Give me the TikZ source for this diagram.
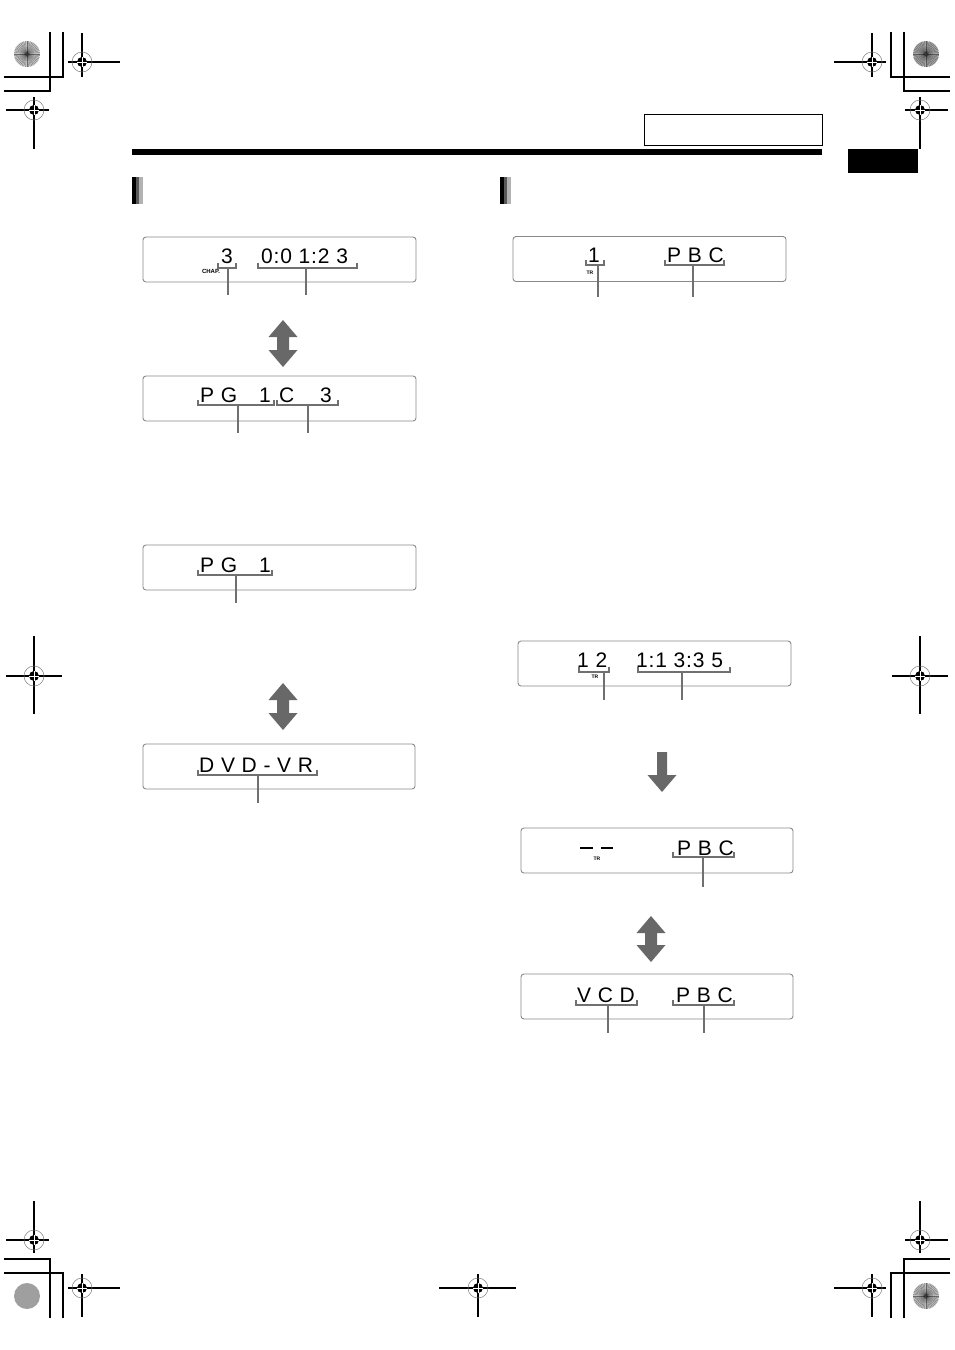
\documentclass[tikz,border=0pt]{standalone}
\usepackage{fontspec}
\setmainfont{Liberation Sans}
\newfontfamily\dispfont[LetterSpace=4]{Liberation Sans}
\definecolor{boxc}{HTML}{8A8A8A}
\definecolor{brkc}{HTML}{707070}
\definecolor{arrc}{HTML}{686868}
\newcommand\regmark[6]{%
  \draw[line width=1.1pt] (#1-#3,#2) -- (#1+#4,#2);
  \draw[line width=1.1pt] (#1,#2-#5) -- (#1,#2+#6);
  \draw[gray,line width=0.5pt] (#1,#2) circle[radius=10];
  \fill[black] (#1,#2) circle[radius=5];
  \draw[white,line width=0.7pt] (#1-5,#2) -- (#1+5,#2) (#1,#2-5) -- (#1,#2+5);
}
\newcommand\burst[3]{%
  \fill[#3] (#1,#2) circle[radius=13];
  \foreach \a in {0,7.5,...,352.5} \draw[black,line width=0.3pt,opacity=0.45] (#1,#2) -- ++(\a:13);
  \fill[gray!60!black] (#1,#2) circle[radius=1.2];
}
\newcommand\bracketmark[5]{%
  \draw[brk] (#1,#3-5) -- (#1,#3) -- (#2,#3) -- (#2,#3-5);
  \draw[brk] (#4,#3) -- (#4,#5);
}
\newcommand\dblarrow[3]{%
  \fill[arrc] (#1,#2) -- (#1+14.5,#2+17) -- (#1+6,#2+17) -- (#1+6,#3-17) -- (#1+14.5,#3-17) -- (#1,#3)
   -- (#1-14.5,#3-17) -- (#1-6,#3-17) -- (#1-6,#2+17) -- (#1-14.5,#2+17) -- cycle;
}
\begin{document}
\begin{tikzpicture}[x=1pt,y=-1pt,
  dispbox/.style={draw=boxc,line width=0.9pt,rounded corners=3pt,minimum width=273pt,minimum height=45pt,inner sep=0pt},
  dtxt/.style={font=\dispfont\fontsize{21}{21}\selectfont,anchor=base west,inner sep=0pt},
  small/.style={font=\bfseries\fontsize{5}{5}\selectfont,inner sep=0pt},
  brk/.style={draw=brkc,line width=1.3pt},
  crop/.style={line width=1.1pt}]
\useasboundingbox[fill=white] (0,0) rectangle (954,1350);

% crop marks
\draw[crop] (50,32) -- (50,91) -- (4,91);
\draw[crop] (63,32) -- (63,77) -- (4,77);
\draw[crop] (904,32) -- (904,91) -- (950,91);
\draw[crop] (891,32) -- (891,77) -- (950,77);
\draw[crop] (50,1318) -- (50,1259) -- (4,1259);
\draw[crop] (63,1318) -- (63,1273) -- (4,1273);
\draw[crop] (904,1318) -- (904,1259) -- (950,1259);
\draw[crop] (891,1318) -- (891,1273) -- (950,1273);

% registration marks
\regmark{82}{62}{14}{38}{29}{15}
\regmark{34}{110}{28}{15}{13}{39}
\regmark{872}{62}{38}{14}{29}{15}
\regmark{920}{110}{15}{28}{13}{39}
\regmark{34}{676}{28}{28}{40}{38}
\regmark{920}{676}{28}{28}{40}{38}
\regmark{34}{1240}{28}{15}{39}{13}
\regmark{82}{1288}{14}{38}{14}{29}
\regmark{478}{1288}{39}{38}{14}{29}
\regmark{872}{1288}{38}{14}{14}{29}
\regmark{920}{1240}{15}{28}{39}{13}

% bursts
\burst{27}{54}{gray!45}
\burst{926}{54}{gray!70}
\burst{926}{1296}{gray!50}
\fill[gray!75] (27,1296) circle[radius=13];

% header
\draw[line width=1pt] (644,114) rectangle (822,145);
\fill[black] (132,149) rectangle (822,154.5);
\fill[black] (848,149) rectangle (918,173);

% section markers
\fill[black] (132,177) rectangle (136,204);
\fill[gray!70!black] (136,177) rectangle (139,204);
\fill[gray!60] (139,177) rectangle (143,204);
\fill[black] (500,177) rectangle (504,204);
\fill[gray!70!black] (504,177) rectangle (507,204);
\fill[gray!60] (507,177) rectangle (511,204);

% ---------- left column ----------
\node[dispbox] (l1) at (279.5,259.5) {};
\node[dtxt] (l1a) at (221,263.5) {3};
\node[dtxt] (l1b) at (261,263.5) {0:0 1:2 3};
\node[small,font=\bfseries\fontsize{6}{6}\selectfont] (l1c) at (211,271) {CHAP.};
\bracketmark{218}{236}{268}{228}{295}
\bracketmark{258}{357}{268}{306}{295}

\dblarrow{283}{320}{367}

\node[dispbox] (l2) at (279.5,398.5) {};
\node[dtxt] (l2a) at (200,402.5) {P G};
\node[dtxt] (l2b) at (259,402.5) {1};
\node[dtxt] (l2c) at (279,402.5) {C};
\node[dtxt] (l2d) at (320,402.5) {3};
\bracketmark{198}{274}{405}{238}{433}
\bracketmark{277}{338}{405}{308}{433}

\node[dispbox] (l3) at (279.5,567.5) {};
\node[dtxt] (l3a) at (200,572) {P G};
\node[dtxt] (l3b) at (259,572) {1};
\bracketmark{198}{272}{575}{236}{603}

\dblarrow{283}{683}{730}

\node[dispbox,minimum width=272pt] (l4) at (279,766.5) {};
\node[dtxt] (l4a) at (199,772) {D V D - V R};
\bracketmark{198}{317}{775}{258}{803}

% ---------- right column ----------
\node[dispbox] (r1) at (649.5,259) {};
\node[dtxt] (r1a) at (588,262.5) {1};
\node[small] (r1t) at (590,273) {TR};
\node[dtxt] (r1b) at (667,262.5) {P B C};
\bracketmark{586}{604}{265}{598}{297}
\bracketmark{665}{724}{265}{693}{297}

\node[dispbox] (r2) at (654.5,663.5) {};
\node[dtxt] (r2a) at (577,667) {1 2};
\node[small] (r2t) at (595,677) {TR};
\node[dtxt] (r2b) at (636,667) {1:1 3:3 5};
\bracketmark{579}{609}{672}{604}{700}
\bracketmark{638}{730}{672}{682}{700}

\fill[arrc] (657,752) -- (667,752) -- (667,775) -- (676.5,775) -- (662,792) -- (647.5,775) -- (657,775) -- cycle;

\node[dispbox,minimum width=272pt] (r3) at (657,850.5) {};
\draw[black,line width=1.8pt] (580,848) -- (593,848) (601,848) -- (613,848);
\node[small] (r3t) at (597,858.5) {TR};
\node[dtxt] (r3b) at (677,855.5) {P B C};
\bracketmark{673}{734}{857}{703}{887}

\dblarrow{651}{916}{962}

\node[dispbox,minimum width=272pt] (r4) at (657,996.5) {};
\node[dtxt] (r4a) at (577,1002) {V C D};
\node[dtxt] (r4b) at (676,1002) {P B C};
\bracketmark{576}{637}{1005}{608}{1033}
\bracketmark{673}{734}{1005}{704}{1033}
\end{tikzpicture}
\end{document}
